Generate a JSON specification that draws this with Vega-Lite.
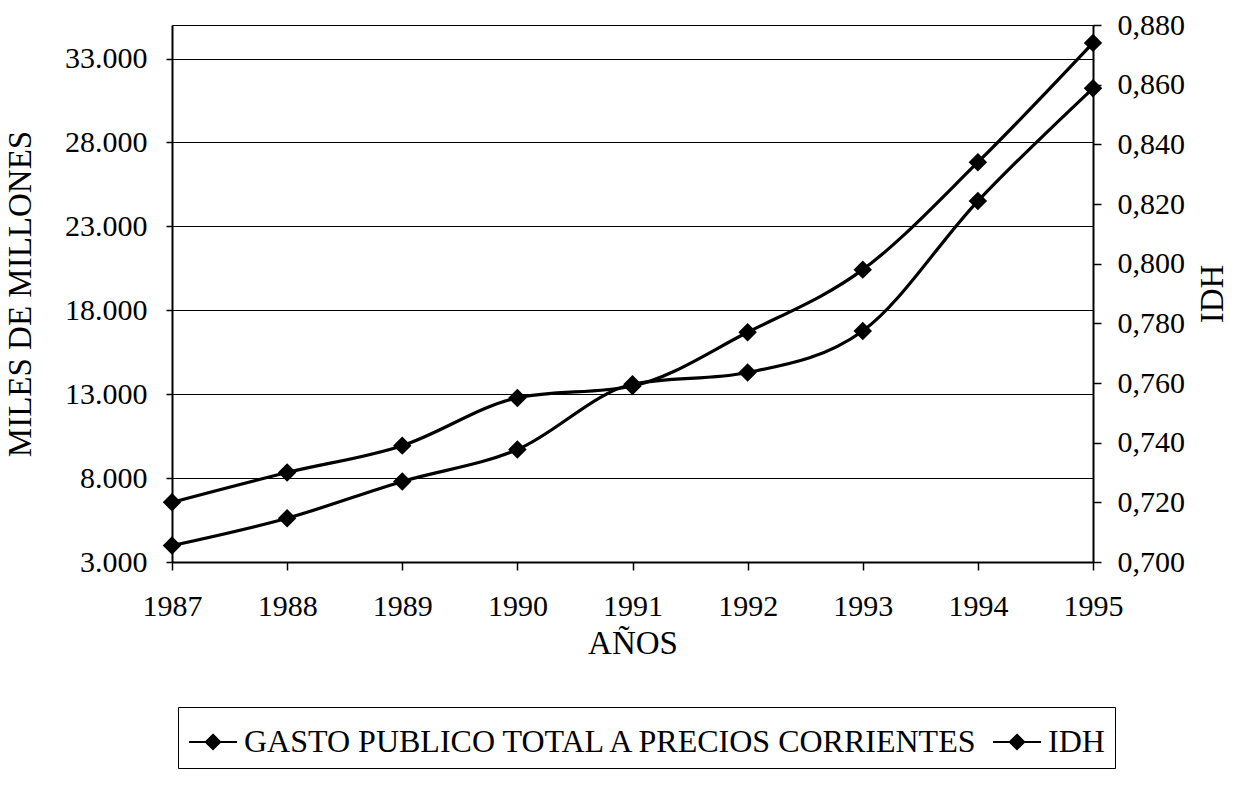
{
  "$schema": "https://vega.github.io/schema/vega-lite/v6.json",
  "width": 921,
  "height": 537,
  "autosize": {"type": "none"},
  "padding": {"left": 172, "top": 25, "right": 148, "bottom": 234},
  "background": "white",
  "config": {
    "font": "Liberation Serif",
    "view": {"stroke": "black", "strokeWidth": 1},
    "axis": {
      "labelFont": "Liberation Serif",
      "titleFont": "Liberation Serif",
      "labelColor": "black",
      "titleColor": "black",
      "domainColor": "black",
      "tickColor": "black",
      "gridColor": "black",
      "labelFontSize": 30,
      "titleFontSize": 33,
      "titleFontWeight": "normal",
      "domainWidth": 2,
      "tickWidth": 1.5,
      "gridWidth": 1.2,
      "gridOpacity": 1
    }
  },
  "data": {
    "values": [
      {"year": 1987, "gasto": 3980, "idh": 0.720},
      {"year": 1988, "gasto": 5610, "idh": 0.730},
      {"year": 1989, "gasto": 7800, "idh": 0.739},
      {"year": 1990, "gasto": 9700, "idh": 0.755},
      {"year": 1991, "gasto": 13590, "idh": 0.759},
      {"year": 1992, "gasto": 14290, "idh": 0.777},
      {"year": 1993, "gasto": 16770, "idh": 0.798},
      {"year": 1994, "gasto": 24510, "idh": 0.834},
      {"year": 1995, "gasto": 31230, "idh": 0.874}
    ]
  },
  "encoding": {
    "x": {
      "field": "year",
      "type": "ordinal",
      "scale": {"type": "point", "padding": 0},
      "axis": {"title": "AÑOS", "labelAngle": 0, "tickSize": 8, "labelPadding": 21, "titlePadding": 6, "grid": false}
    }
  },
  "layer": [
    {
      "mark": {"type": "line", "interpolate": "monotone", "strokeWidth": 3.2, "point": {"filled": true, "shape": "diamond", "size": 340}},
      "encoding": {
        "y": {
          "field": "gasto",
          "type": "quantitative",
          "scale": {"domain": [3000, 35000], "nice": false, "zero": false},
          "axis": {
            "title": "MILES DE MILLONES",
            "values": [3000, 8000, 13000, 18000, 23000, 28000, 33000],
            "labelExpr": "replace(format(datum.value, ',.0f'), ',', '.')",
            "grid": true,
            "tickSize": 6,
            "labelPadding": 19,
            "titlePadding": 27
          }
        },
        "color": {
          "datum": "GASTO PUBLICO TOTAL A PRECIOS CORRIENTES",
          "type": "nominal",
          "scale": {"domain": ["GASTO PUBLICO TOTAL A PRECIOS CORRIENTES", "IDH"], "range": ["black", "black"]},
          "legend": {
            "orient": "none",
            "legendX": 6,
            "legendY": 682,
            "direction": "horizontal",
            "title": null,
            "strokeColor": "black",
            "padding": 10,
            "labelFont": "Liberation Serif",
            "labelFontSize": 32,
            "labelColor": "black",
            "labelLimit": 1000,
            "labelOffset": 6,
            "columnPadding": 8,
            "symbolType": "M-1,0H1M0,-0.3L0.3,0L0,0.3L-0.3,0Z",
            "symbolSize": 2304,
            "symbolStrokeWidth": 2,
            "encode": {"symbols": {"update": {"fill": {"value": "black"}, "stroke": {"value": "black"}, "opacity": {"value": 1}}}}
          }
        }
      }
    },
    {
      "mark": {"type": "line", "interpolate": "monotone", "strokeWidth": 3.2, "point": {"filled": true, "shape": "diamond", "size": 340}},
      "encoding": {
        "y": {
          "field": "idh",
          "type": "quantitative",
          "scale": {"domain": [0.7, 0.88], "nice": false, "zero": false},
          "axis": {
            "orient": "right",
            "title": "IDH",
            "values": [0.70, 0.72, 0.74, 0.76, 0.78, 0.80, 0.82, 0.84, 0.86, 0.88],
            "labelExpr": "replace(format(datum.value, '.3f'), '.', ',')",
            "grid": false,
            "tickSize": 8,
            "labelPadding": 16,
            "titleAngle": 270,
            "titleBaseline": "top",
            "titlePadding": 12
          }
        },
        "color": {"datum": "IDH", "type": "nominal"}
      }
    }
  ],
  "resolve": {"scale": {"y": "independent"}}
}
